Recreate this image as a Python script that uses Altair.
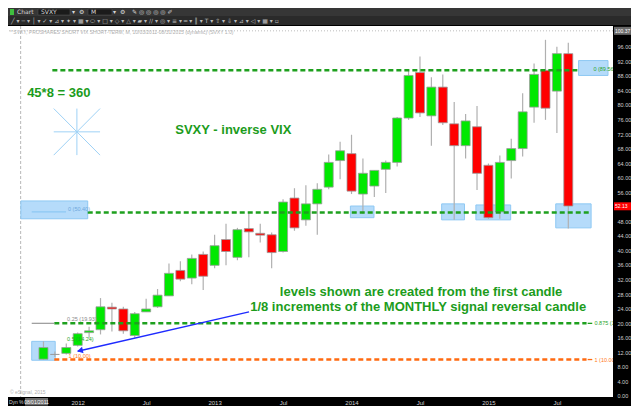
import json
import altair as alt
import pandas as pd

# ---------------- data (monthly SVXY candles) ----------------
months = ["2011-10", "2011-11", "2011-12",
          "2012-01", "2012-02", "2012-03", "2012-04", "2012-05", "2012-06",
          "2012-07", "2012-08", "2012-09", "2012-10", "2012-11", "2012-12",
          "2013-01", "2013-02", "2013-03", "2013-04", "2013-05", "2013-06",
          "2013-07", "2013-08", "2013-09", "2013-10", "2013-11", "2013-12",
          "2014-01", "2014-02", "2014-03", "2014-04", "2014-05", "2014-06",
          "2014-07", "2014-08", "2014-09", "2014-10", "2014-11", "2014-12",
          "2015-01", "2015-02", "2015-03", "2015-04", "2015-05", "2015-06",
          "2015-07", "2015-08"]
opens = [10.1, 11.4, 11.7, 13.9, 17.4, 18.2, 24.4, 23.9, 16.6, 23.1, 24.5, 27.5,
         34.5, 32.4, 38.9, 35.9, 43.0, 38.1, 46.0, 44.7, 44.3, 39.7, 54.4, 48.4,
         52.8, 57.4, 64.7, 66.6, 55.5, 57.7, 62.3, 64.2, 76.4, 88.9, 77.0, 84.9,
         74.8, 68.8, 74.0, 63.4, 50.6, 64.7, 68.0, 79.4, 89.5, 83.8, 94.1]
highs = [15.0, 12.2, 14.4, 17.4, 19.0, 26.9, 25.6, 24.5, 23.1, 26.7, 29.4, 36.4,
         37.0, 38.9, 39.7, 44.3, 47.3, 46.2, 50.3, 47.3, 44.9, 54.1, 57.1, 57.9,
         58.5, 66.4, 69.9, 71.8, 65.3, 62.0, 64.7, 76.7, 89.7, 93.3, 87.6, 88.4,
         80.8, 77.5, 79.7, 63.9, 66.1, 70.7, 83.2, 91.4, 97.9, 96.0, 97.1]
lows = [10.0, 10.7, 11.4, 13.6, 16.0, 16.9, 17.7, 17.1, 16.0, 23.1, 24.2, 27.5,
        31.5, 30.7, 29.1, 35.1, 35.9, 37.3, 38.1, 42.2, 35.1, 39.4, 45.4, 46.8,
        44.3, 56.8, 59.6, 55.5, 50.0, 54.7, 55.8, 63.1, 75.9, 76.7, 68.8, 74.5,
        48.4, 65.3, 56.6, 48.7, 48.7, 59.8, 65.8, 75.1, 75.9, 72.3, 46.0]
closes = [13.3, 11.4, 13.3, 17.1, 17.9, 24.5, 23.9, 17.9, 22.6, 23.9, 27.7, 33.7,
          32.1, 37.8, 32.9, 41.3, 39.7, 45.7, 45.1, 44.2, 39.4, 53.3, 46.2, 52.8,
          56.8, 64.2, 67.4, 56.3, 61.2, 62.0, 64.2, 76.4, 88.1, 77.8, 84.9, 75.1,
          68.8, 75.6, 61.2, 49.0, 64.2, 68.0, 78.1, 88.4, 79.1, 94.1, 52.2]

x_tick_values = [3, 9, 15, 21, 27, 33, 39, 45]
x_tick_labels = ["2012", "Jul", "2013", "Jul", "2014", "Jul", "2015", "Jul"]
# 52.00 is hidden behind the last-price marker in the reference
y_tick_values = [0, 4, 8, 12, 16, 20, 24, 28, 32, 36, 40, 44, 48,
                 56, 60, 64, 68, 72, 76, 80, 84, 88, 92, 96]
last_price = 52.13
crosshair_price = 100.37
crosshair_month = -2  # 08/01/2011

# drawn levels (fib-style tool)
level_names = ["0 (89.56)", "0 (50.40)", "0.875 (19.95)", "1 (10.00)"]
level_prices = [89.56, 50.40, 19.95, 10.00]
level_start = [0.78, 3.88, 0.95, 0.95]
level_end = [46.9, 48.0, 47.6, 47.6]

# highlight boxes (month index / price)
box_x1 = [-1.03, -1.98, 26.9, 34.9, 37.9, 44.9, 46.9]
box_x2 = [1.03, 3.88, 28.97, 36.9, 40.95, 48.0, 49.48]
box_y1 = [15.0, 53.6, 52.2, 52.8, 52.5, 52.8, 92.2]
box_y2 = [9.8, 48.7, 49.0, 48.4, 48.4, 46.2, 88.1]

# ---------------- frames ----------------
dirs = ["up" if c > o else ("down" if c < o else "flat") for o, c in zip(opens, closes)]
candles = pd.DataFrame({"month": months, "idx": list(range(len(months))),
                        "open": opens, "high": highs, "low": lows, "close": closes,
                        "dir": dirs})
levels = pd.DataFrame({"name": level_names, "price": level_prices,
                       "start": level_start, "end": level_end})
boxes = pd.DataFrame({"x1": box_x1, "x2": box_x2, "y1": box_y1, "y2": box_y2})
one = pd.DataFrame({"a": [0]})

W, H = 605, 371
xs = alt.Scale(domain=[-2.67, 49.48], nice=False, zero=False)
ys = alt.Scale(domain=[-0.3, 101.7], nice=False, zero=False)

label_expr = f"{json.dumps(x_tick_labels)}[indexof({json.dumps(x_tick_values)}, datum.value)]"
x_axis = alt.Axis(values=x_tick_values, labelExpr=label_expr, orient="bottom",
                  labelColor="#d0d0d0", labelFontSize=6, labelFont="Liberation Sans",
                  labelPadding=2, domain=False, ticks=False, grid=False, title=None,
                  labelFlush=False, labelOverlap=False)
y_axis = alt.Axis(values=y_tick_values, format=".2f", orient="right",
                  labelColor="#d0d0d0", labelFontSize=5.5, labelFont="Liberation Sans",
                  labelPadding=4, domain=False, ticks=False, grid=False, title=None,
                  labelOverlap=False, labelFlush=False, labelBound=False, labelSeparation=0)


def X(field):
    return alt.X(field, scale=xs, axis=x_axis)


def Y(field):
    return alt.Y(field, scale=ys, axis=y_axis)


GREEN_TXT = "#1c9c1c"

# crosshair
cross_v = alt.Chart(one).mark_rule(color="#b8b8b8", strokeDash=[3, 2], strokeWidth=1).encode(
    x=alt.X(datum=crosshair_month, scale=xs, axis=x_axis))
cross_h = alt.Chart(one).mark_rule(color="#bdbdbd", strokeDash=[1, 2], strokeWidth=1).encode(
    y=alt.Y(datum=crosshair_price, scale=ys, axis=y_axis))

box_layer = alt.Chart(boxes).mark_rect(fill="#b5dbfa", stroke="#8ec8f3", strokeWidth=1).encode(
    x=X("x1:Q"), x2="x2:Q", y=Y("y1:Q"), y2="y2:Q")

wicks = alt.Chart(candles).mark_rule(color="#b0b0b0", strokeWidth=1.2).encode(
    x=X("idx:Q"), y=Y("low:Q"), y2="high:Q")

bodies = alt.Chart(candles).mark_bar(size=9, stroke="#9a9a9a", strokeWidth=0.8).encode(
    x=X("idx:Q"), y=Y("open:Q"), y2="close:Q",
    color=alt.Color("dir:N", scale=alt.Scale(domain=["up", "down", "flat"],
                                            range=["#00e800", "#ff0000", "#9a9a9a"]),
                    legend=None))

level_lines = alt.Chart(levels).mark_rule(strokeDash=[5, 3], strokeWidth=2.5).encode(
    x=X("start:Q"), x2="end:Q", y=Y("price:Q"),
    color=alt.Color("name:N", scale=alt.Scale(domain=level_names,
                                             range=["#1ea01e", "#1ea01e", "#1ea01e", "#ff6a10"]),
                    legend=None))

# small drawing-tool segments
seg = pd.DataFrame({"x1": [-1.03, -1.03, 47.7, 47.7], "x2": [0.95, 1.98, 48.1, 48.1],
                    "y": [19.95, 50.6, 19.95, 10.0],
                    "c": ["g", "b", "G", "o"]})
segs = alt.Chart(seg).mark_rule(strokeWidth=1.3).encode(
    x=X("x1:Q"), x2="x2:Q", y=Y("y:Q"),
    color=alt.Color("c:N", scale=alt.Scale(domain=["g", "b", "G", "o"],
                                          range=["#a0a0a0", "#8ec8f3", "#1ea01e", "#ff6a10"]),
                    legend=None))

# small level labels
small = pd.DataFrame({
    "t": ["0 (89.56)", "0 (50.40)", "0.25 (19.93)", "0.5 (14.24)", "1 (10.00)",
          "0.875 (19.95)", "1 (10.00)"],
    "x": [48.2, 2.15, 2.07, 2.07, 2.2, 48.3, 48.3],
    "y": [90.0, 51.3, 21.1, 15.7, 10.9, 20.0, 10.0],
    "c": ["g", "b", "k", "g", "o", "g", "o"]})
small_txt = alt.Chart(small).mark_text(align="left", baseline="middle", fontSize=5.5,
                                       font="Liberation Sans", clip=True).encode(
    x=X("x:Q"), y=Y("y:Q"), text="t:N",
    color=alt.Color("c:N", scale=alt.Scale(domain=["g", "b", "k", "o"],
                                          range=["#2aa52a", "#6fa8dc", "#8a8a8a", "#ff7a20"]),
                    legend=None))

# 8-point star
star = pd.DataFrame({"x1": [0.9, 2.93, 0.9, 0.9], "x2": [4.96, 2.93, 4.96, 4.96],
                     "y1": [72.6, 79.0, 79.0, 66.2], "y2": [72.6, 66.2, 66.2, 79.0]})
star_l = alt.Chart(star).mark_rule(color="#9fd2f6", strokeWidth=1).encode(
    x=X("x1:Q"), x2="x2:Q", y=Y("y1:Q"), y2="y2:Q")

# annotation texts
ann = pd.DataFrame({
    "t": ["45*8 = 360", "SVXY - inverse VIX",
          "levels shown are created from the first candle",
          "1/8 increments of the MONTHLY signal reversal candle"],
    "x": [1.34, 16.64, 33.1, 32.84],
    "y": [83.3, 73.0, 28.6, 24.5]})
ann_txt = alt.Chart(ann).mark_text(font="Liberation Sans", fontWeight="bold", fontSize=13,
                                   color=GREEN_TXT, align="center", baseline="middle").encode(
    x=X("x:Q"), y=Y("y:Q"), text="t:N")

# arrow
arr = pd.DataFrame({"x1": [18.02], "y1": [23.1], "x2": [3.0], "y2": [12.3]})
arrow_line = alt.Chart(arr).mark_rule(color="#1f2bff", strokeWidth=1.5).encode(
    x=X("x1:Q"), x2="x2:Q", y=Y("y1:Q"), y2="y2:Q")
head = pd.DataFrame({"x": [3.2], "y": [12.45]})
arrow_head = alt.Chart(head).mark_point(shape="triangle-up", angle=257, size=45, filled=True,
                                        color="#1f2bff", opacity=1).encode(
    x=X("x:Q"), y=Y("y:Q"))

# price markers in the right axis strip
pm = pd.DataFrame({"p": [last_price, crosshair_price], "t": ["52.13", "100.37"],
                   "k": ["last", "cross"]})
pm_rect = alt.Chart(pm).mark_rect(height=8).encode(
    x=alt.value(W + 1), x2=alt.value(W + 18), y=Y("p:Q"),
    color=alt.Color("k:N", scale=alt.Scale(domain=["last", "cross"],
                                          range=["#ff0000", "#6a6a6a"]), legend=None))
pm_text = alt.Chart(pm).mark_text(align="left", baseline="middle", fontSize=5,
                                  font="Liberation Sans", color="#ffffff").encode(
    x=alt.value(W + 2), y=Y("p:Q"), text="t:N")

# ---------------- chrome (toolbar / footer) ----------------
tb1 = alt.Chart(one).mark_rect(color="#363636").encode(
    x=alt.value(0), x2=alt.value(W + 18), y=alt.value(-18), y2=alt.value(-10))
tb2 = alt.Chart(one).mark_rect(color="#2a2a2a").encode(
    x=alt.value(0), x2=alt.value(W + 18), y=alt.value(-10), y2=alt.value(-1))
inputs = pd.DataFrame({"x1": [30, 80], "x2": [62, 104]})
tb_inputs = alt.Chart(inputs).mark_rect(color="#1b1b1b", stroke="#555555", strokeWidth=0.5).encode(
    x=alt.X("x1:Q", scale=None), x2="x2:Q", y=alt.value(-17), y2=alt.value(-11))
tb_texts = pd.DataFrame({"t": ["Chart", "SVXY", "▾", "M", "▾", "⚙", "⚙", "✎  ◎  ◎  ◎  ◎  ✐"],
                         "x": [9, 33, 64, 83, 105, 71, 112, 124]})
tb_txt = alt.Chart(tb_texts).mark_text(align="left", baseline="middle", fontSize=6,
                                       font="DejaVu Sans", color="#d8d8d8").encode(
    x=alt.X("x:Q", scale=None), y=alt.value(-14), text="t:N")
tb_icon = alt.Chart(one).mark_rect(color="#3fbf3f").encode(
    x=alt.value(2), x2=alt.value(6), y=alt.value(-17), y2=alt.value(-11))
tools = ("╱ ▾  ─ ▾  │ ▾  ✓ ▾  ⊿ ▾  ✦ ▾  ▦ ▾  ⬭ ▾  □ ▾  ◇ ▾  △ ▾  ▰ ▾  ∕∕ ▾  ◎ ▾  ≡ ▾  "
         "═ ▾  ║ ▾  T ▾  ⇧ ▾  ⇩ ▾  ⊿ ▾  ◁ ▾  ▦ ▾  ▫")
tb_tools = alt.Chart(one).mark_text(align="left", baseline="middle", fontSize=6,
                                    font="DejaVu Sans", color="#bdbdbd", text=tools).encode(
    x=alt.value(3), y=alt.value(-5.5))
header = alt.Chart(one).mark_text(
    align="left", baseline="middle", fontSize=5, font="Liberation Sans", color="#b0b0b0",
    text="* SVXY, PROSHARES SHORT VIX SHORT-TERM, M, 10/03/2011-08/31/2015 (dynamic) (SVXY 1.0)"
).encode(x=alt.value(2), y=alt.value(6))
copy = alt.Chart(one).mark_text(align="left", baseline="middle", fontSize=5,
                                font="Liberation Sans", color="#b0b0b0",
                                text="© eSignal, 2015").encode(x=alt.value(2), y=alt.value(H - 5))
foot = pd.DataFrame({"t": ["Dyn", "%"], "x": [1, 11]})
foot_txt = alt.Chart(foot).mark_text(align="left", baseline="middle", fontSize=5,
                                     font="Liberation Sans", color="#d0d0d0").encode(
    x=alt.X("x:Q", scale=None), y=alt.value(H + 4.5), text="t:N")
date_box = alt.Chart(one).mark_rect(color="#6a6a6a").encode(
    x=alt.value(17), x2=alt.value(40), y=alt.value(H + 1), y2=alt.value(H + 8.5))
date_txt = alt.Chart(one).mark_text(align="center", baseline="middle", fontSize=5,
                                    font="Liberation Sans", color="#ffffff",
                                    text="08/01/2011").encode(x=alt.value(28.5), y=alt.value(H + 4.8))

chart = alt.layer(
    cross_v, cross_h, box_layer, wicks, bodies, level_lines, segs, small_txt, star_l,
    ann_txt, arrow_line, arrow_head, pm_rect, pm_text,
    tb1, tb2, tb_inputs, tb_icon, tb_txt, tb_tools, header, copy, foot_txt, date_box, date_txt,
).resolve_scale(color="independent").properties(
    width=W, height=H,
    padding={"left": 0, "right": 18, "top": 18, "bottom": 9},
    autosize=alt.AutoSizeParams(type="none"),
    background="#000000",
).configure_view(fill="#ffffff", stroke=None).configure_axis(labelOverlap=False)

chart.save("out.html", embed_options={"renderer": "svg", "actions": False})
